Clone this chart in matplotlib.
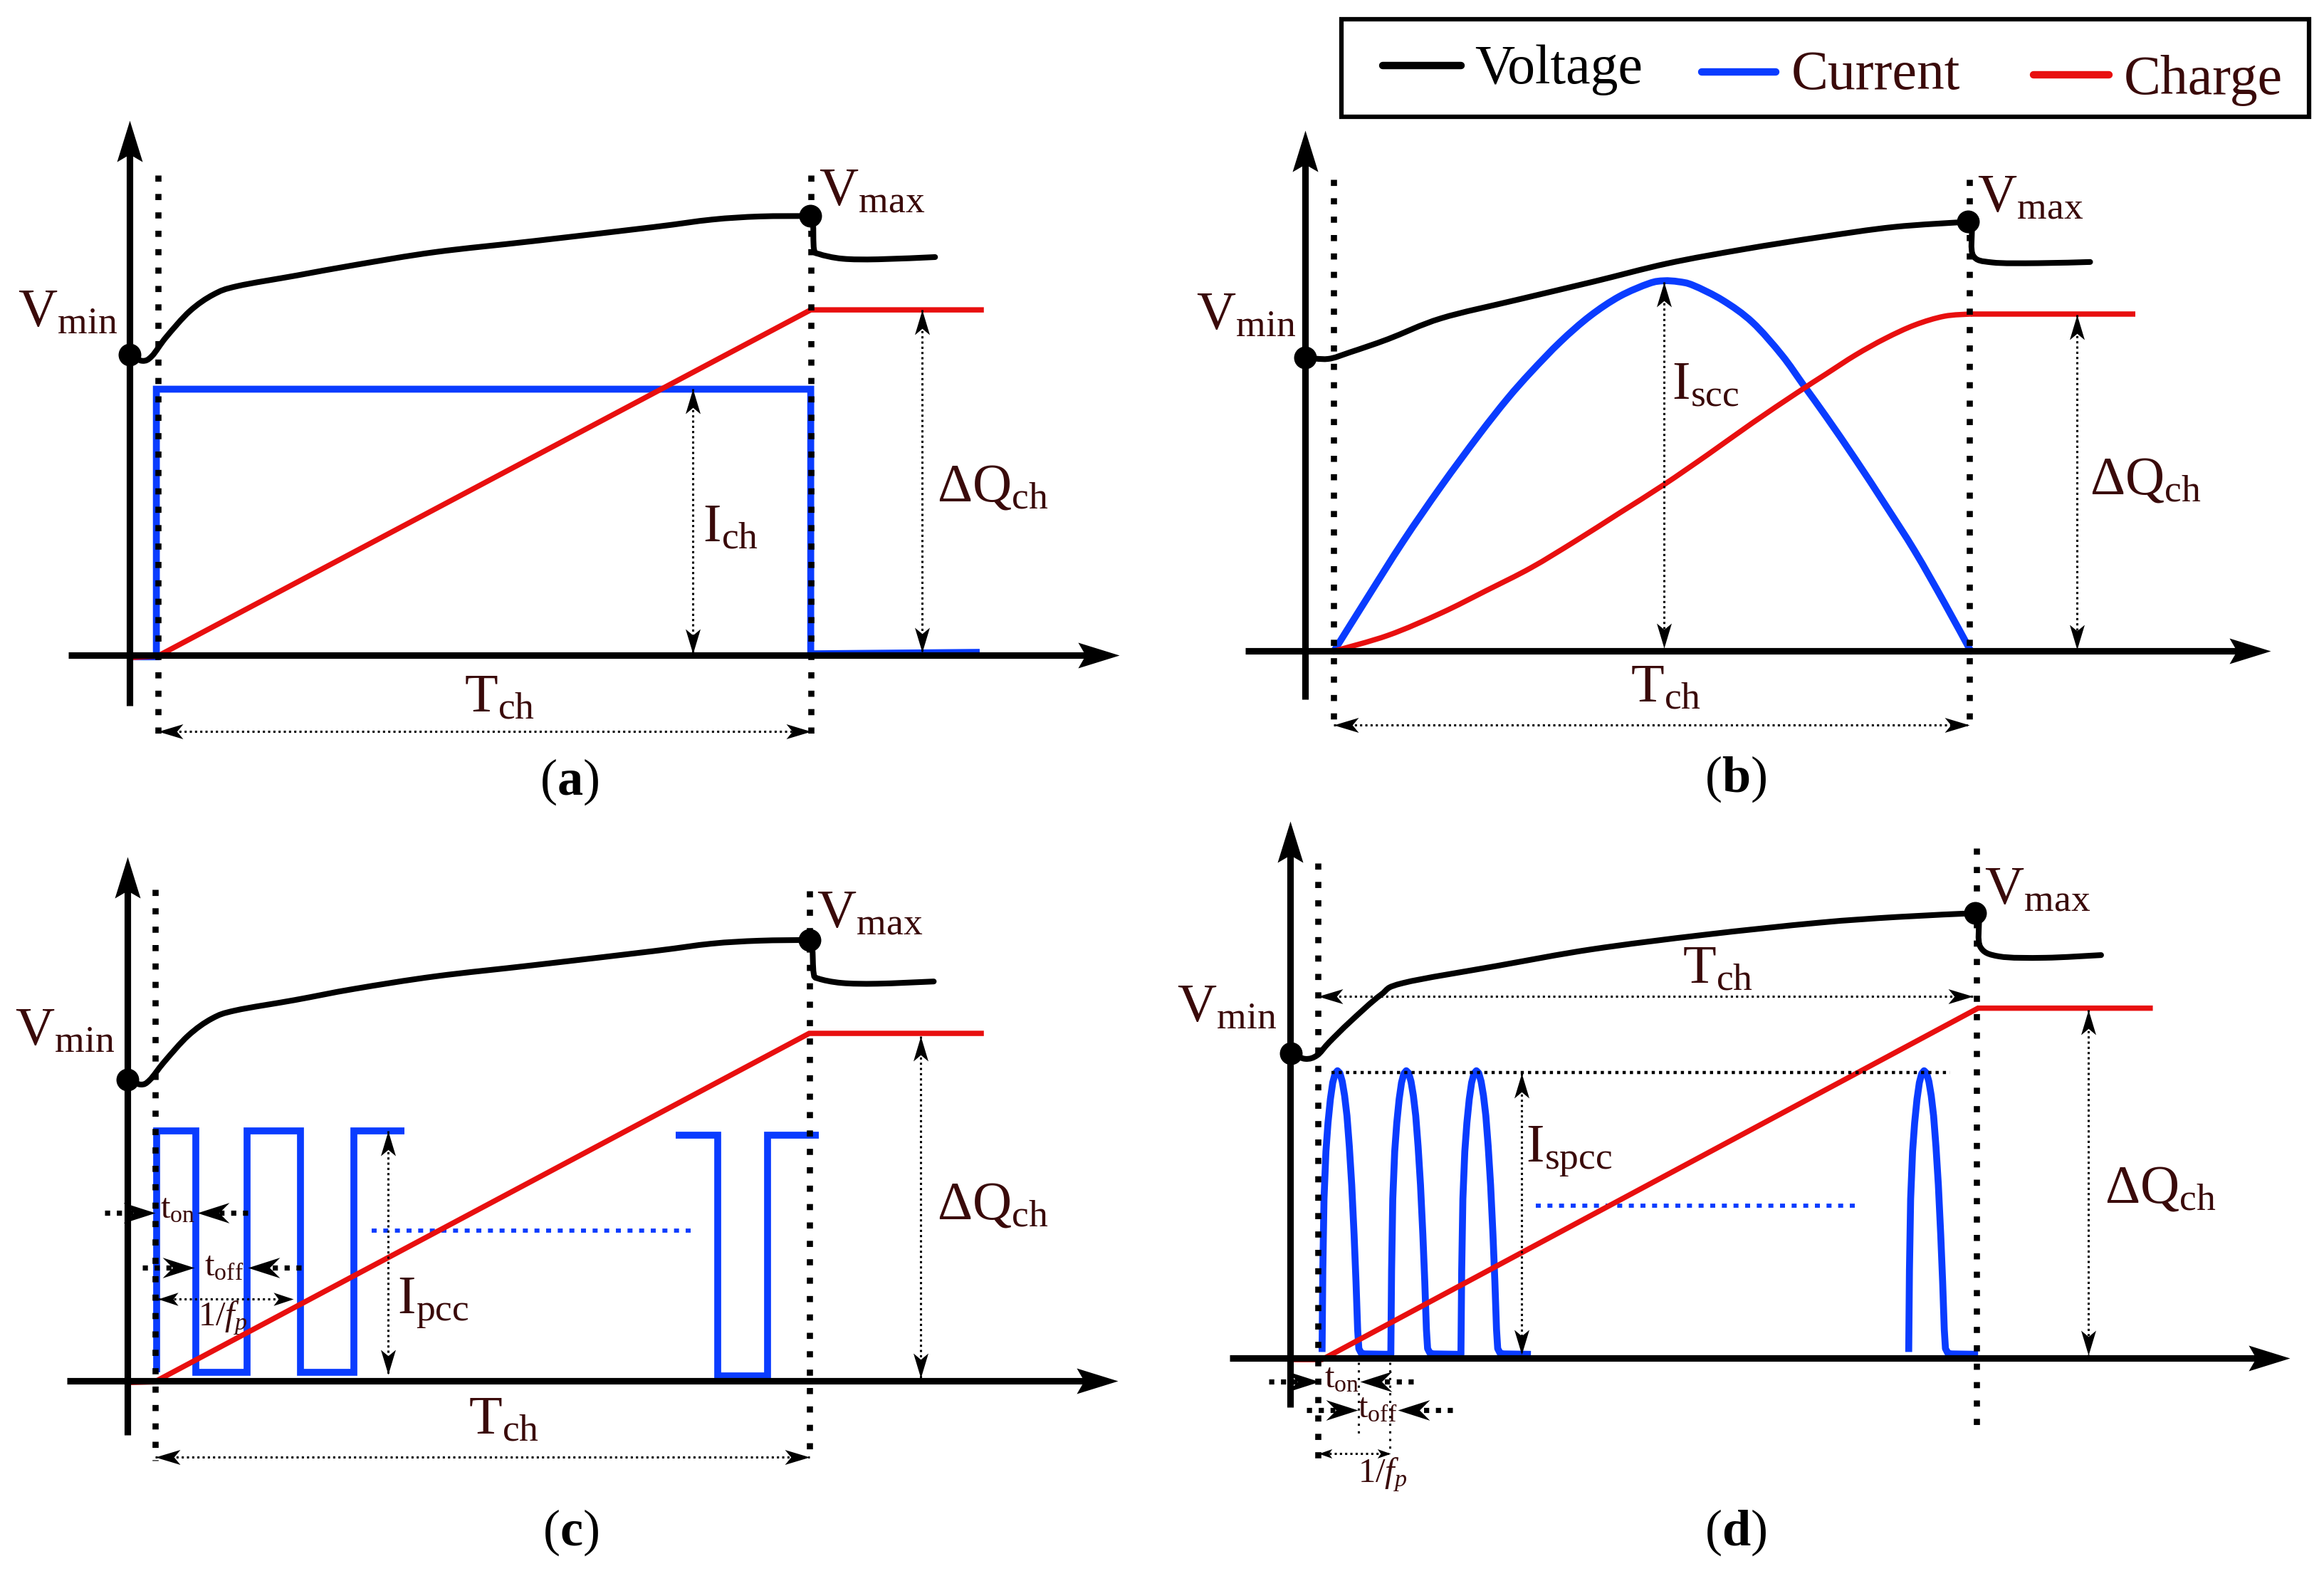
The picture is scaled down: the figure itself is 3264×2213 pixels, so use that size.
import matplotlib
matplotlib.use("Agg")
import numpy as np
import matplotlib.pyplot as plt
from matplotlib.path import Path
from matplotlib.markers import MarkerStyle
from matplotlib.patches import Rectangle, PathPatch

plt.rcParams["font.family"] = ["Liberation Serif", "DejaVu Serif"]
plt.rcParams["mathtext.fontset"] = "custom"
plt.rcParams["mathtext.rm"] = "Liberation Serif"
plt.rcParams["mathtext.it"] = "Liberation Serif:italic"
plt.rcParams["mathtext.bf"] = "Liberation Serif:bold"

# ---------------- data (schematic units) ----------------
# panel (a): constant current charging
a_volt_x = [87.3, 96.1, 102.5, 112.1, 128.1, 144.1, 160.1, 200.2, 240.2, 293.8, 360.0, 440.6, 480.4, 512.4, 546.5]
a_volt_y = [239.4, 243.4, 240.2, 227.4, 209.8, 198.6, 193.0, 185.8, 178.6, 170.0, 162.6, 153.2, 148.1, 146.0, 145.7]
a_rest_x = [546.5, 548.5, 549.2, 552.5, 568.5, 592.5, 630.9]
a_rest_y = [145.7, 150.5, 168.1, 171.3, 174.5, 174.9, 173.4]
a_curr_x = [87.5, 105.5, 105.5, 547.0, 547.0, 661.0]
a_curr_y = [443.0, 443.0, 262.5, 262.5, 441.0, 440.0]
a_chg_x = [87.5, 106.5, 547.0, 662.0]
a_chg_y = [443.5, 442.5, 209.0, 209.0]

# panel (b): sinusoidal current charging
b_volt_x = [880.6, 895.9, 911.2, 936.6, 972.3, 1023.2, 1075.0, 1125.0, 1176.0, 1226.9, 1277.8, 1327.7]
b_volt_y = [241.0, 242.1, 237.5, 228.7, 214.7, 202.3, 190.0, 177.7, 168.2, 160.1, 153.1, 149.6]
b_rest_x = [1327.7, 1330.3, 1331.3, 1344.0, 1375.0, 1410.2]
b_rest_y = [149.6, 154.8, 172.4, 177.0, 177.5, 176.7]
b_curr_x = [900.0, 921.4, 946.8, 972.3, 997.7, 1017.0, 1032.9, 1052.8, 1072.7, 1092.7, 1112.6, 1122.5,
            1132.5, 1142.5, 1162.4, 1182.3, 1202.2, 1217.0, 1232.1, 1252.0, 1272.0, 1291.9, 1311.8, 1329.7]
b_curr_y = [439.2, 405.0, 365.0, 328.0, 293.5, 269.0, 251.0, 230.5, 213.2, 199.9, 191.2, 189.4,
            190.0, 192.5, 202.6, 217.3, 239.5, 260.0, 281.0, 310.0, 340.5, 371.7, 406.5, 439.2]
b_chg_x = [900.0, 936.6, 972.3, 1002.5, 1032.9, 1062.8, 1092.7, 1122.5, 1152.4, 1182.3, 1212.2, 1232.1,
           1252.0, 1272.0, 1291.9, 1311.8, 1329.7]
b_chg_y = [439.2, 428.5, 413.5, 398.5, 383.0, 365.0, 346.0, 327.0, 306.5, 285.3, 265.1, 252.2,
           239.4, 228.3, 219.2, 213.3, 211.8]
b_chg_flat_x = [(880.6, 900.0), (1329.7, 1440.8)]
b_chg_flat_y = [439.2, 211.8]

# panel (c): pulsed current charging
c_volt_x = [85.8, 95.0, 101.0, 111.0, 127.0, 143.0, 159.0, 199.0, 239.0, 294.0, 360.0, 441.0, 480.0, 512.0, 546.0]
c_volt_y = [728.0, 731.5, 728.5, 716.0, 698.5, 687.0, 681.5, 674.5, 667.0, 658.5, 651.0, 641.5, 636.5, 634.5, 634.0]
c_rest_x = [546.0, 548.0, 549.0, 552.0, 568.0, 592.0, 630.0]
c_rest_y = [634.0, 639.0, 656.5, 660.0, 663.0, 663.5, 662.0]
c_curr1_x = [105.7, 105.7, 132.1, 132.1, 166.5, 166.5, 202.6, 202.6, 238.6, 238.6, 273.0]
c_curr1_y = [925.6, 763.0, 763.0, 925.6, 925.6, 763.0, 763.0, 925.6, 925.6, 763.0, 763.0]
c_curr2_x = [456.0, 484.0, 484.0, 518.0, 518.0, 552.5]
c_curr2_y = [765.5, 765.5, 928.0, 928.0, 765.5, 765.5]
c_chg_x = [86.0, 104.5, 546.0, 662.0]
c_chg_y = [932.5, 932.0, 697.0, 697.0]

# panel (d): sinusoidal-pulse current charging
d_volt_x = [870.8, 880.7, 888.7, 896.8, 911.1, 931.5, 946.8, 1010.0, 1074.0, 1150.0, 1226.7, 1280.0, 1332.6]
d_volt_y = [710.5, 714.2, 711.8, 703.0, 689.0, 671.1, 663.0, 651.5, 640.3, 630.5, 622.4, 618.5, 615.9]
d_rest_x = [1332.6, 1335.1, 1336.1, 1348.9, 1380.0, 1417.6]
d_rest_y = [615.9, 620.8, 638.6, 645.1, 646.0, 644.2]
d_pulse_dx = [0.0, 0.5, 1.3, 2.6, 4.0, 5.6, 7.2, 8.8, 10.4, 12.0, 13.6, 15.2, 16.8, 18.4, 20.0, 21.6, 22.9,
              24.0, 24.8, 26.4, 28.8]
d_pulse_y = [911.9, 856.7, 808.7, 776.7, 757.4, 741.4, 730.2, 724.1, 722.2, 723.8, 729.4, 739.0, 752.6, 773.4,
             799.1, 832.7, 864.7, 896.7, 909.6, 912.7, 913.2]
d_pulse_start = [892.0, 938.4, 985.7, 1287.8]
d_pulse_lowend = [938.4, 985.7, 1032.9, 1334.6]
d_low_level = 913.5
d_chg_x = [870.4, 892.0, 1334.6, 1450.7]
d_chg_y = [917.0, 917.0, 680.0, 680.0]

legend_names = ["Voltage", "Current", "Charge"]

# ---------------- figure ----------------
W, H = 1568.0, 1063.0
FIG_W, FIG_H, DPI = 32.64, 22.13, 100
PT = FIG_W * 72.0 / W  # points per schematic unit

BLACK = "#000000"
BLUE = "#0a3cff"
RED = "#e80f0f"
TXT = "#3a0a0a"

LW_AXIS = 6.6
LW_V = 5.8
LW_I = 7.0
LW_Q = 5.4

fig = plt.figure(figsize=(FIG_W, FIG_H), dpi=DPI)
ax = fig.add_axes([0, 0, 1, 1])
ax.set_xlim(0, W)
ax.set_ylim(H, 0)
ax.set_axis_off()


def smooth(xs, ys, color, lw, z):
    """Draw a smooth (Catmull-Rom style Bezier) curve through the given points."""
    P = np.column_stack([xs, ys]).astype(float)
    n = len(P)
    verts = [P[0]]
    codes = [Path.MOVETO]
    for i in range(n - 1):
        p0 = P[i - 1] if i > 0 else P[i]
        p1 = P[i]
        p2 = P[i + 1]
        p3 = P[i + 2] if i + 2 < n else P[i + 1]
        verts += [p1 + (p2 - p0) / 6.0, p2 - (p3 - p1) / 6.0, p2]
        codes += [Path.CURVE4] * 3
    ax.add_patch(PathPatch(Path(verts, codes), fill=False, edgecolor=color, lw=lw,
                           capstyle="round", joinstyle="round", zorder=z))


def ang_of(x0, y0, x1, y1):
    return np.degrees(np.arctan2(-(y1 - y0), x1 - x0))


def head(x, y, ang, L, w=0.32, notch=0.75, color=BLACK, z=9):
    p = Path([(0, 0), (-1, w), (-notch, 0), (-1, -w), (0, 0)],
             [Path.MOVETO, Path.LINETO, Path.LINETO, Path.LINETO, Path.CLOSEPOLY])
    m = MarkerStyle(p).rotated(deg=ang)
    ax.plot([x], [y], ls="none", marker=m, ms=2 * L * PT, mfc=color, mec=color, mew=0, zorder=z)


def axis_arrow(x0, y0, x1, y1):
    L = 27.9
    d = np.hypot(x1 - x0, y1 - y0)
    ux, uy = (x1 - x0) / d, (y1 - y0) / d
    ax.plot([x0, x1 - 0.6 * L * ux], [y0, y1 - 0.6 * L * uy], color=BLACK, lw=LW_AXIS,
            solid_capstyle="butt", zorder=7)
    head(x1, y1, ang_of(x0, y0, x1, y1), L, w=0.31, notch=0.82, z=7)


def thick_dots(xs, ys, lw=6.2, dash=(0, (1, 2)), z=5, color=BLACK):
    ax.plot(xs, ys, color=color, lw=lw, linestyle=dash, dash_capstyle="butt", zorder=z)


def dim_arrow(x0, y0, x1, y1, L=16.8, w=0.3):
    ax.plot([x0, x1], [y0, y1], color=BLACK, lw=2.2, linestyle=(0, (1, 1.4)),
            dash_capstyle="butt", zorder=6)
    head(x1, y1, ang_of(x0, y0, x1, y1), L, w=w, notch=0.75, z=6)
    head(x0, y0, ang_of(x1, y1, x0, y0), L, w=w, notch=0.75, z=6)


def pointer(tip_x, y, direction, tail_x, L=21.6):
    ang = 0 if direction > 0 else 180
    thick_dots([tail_x, tip_x - direction * 0.7 * L], [y, y], lw=5.2, dash=(0, (1, 1.3)), z=8)
    head(tip_x, y, ang, L, w=0.32, notch=0.68, z=8)


def label(x, y, s, size=55, color=TXT, ha="left"):
    ax.text(x, y, s, fontsize=size, color=color, ha=ha, va="baseline", zorder=10)


def vdot(x, y):
    ax.plot([x], [y], "o", ms=23, color=BLACK, mew=0, zorder=9)


def voltage(xs, ys, rx, ry):
    smooth(xs, ys, BLACK, LW_V, 6)
    smooth(rx, ry, BLACK, LW_V, 6)


# ---------------- panel (a) ----------------
ax.plot(a_curr_x, a_curr_y, color=BLUE, lw=LW_I, solid_joinstyle="miter", solid_capstyle="butt", zorder=3)
ax.plot(a_chg_x, a_chg_y, color=RED, lw=LW_Q, solid_joinstyle="miter", zorder=4)
thick_dots([106.5, 106.5], [118.0, 497.0])
thick_dots([547.0, 547.0], [118.0, 497.0])
voltage(a_volt_x, a_volt_y, a_rest_x, a_rest_y)
axis_arrow(87.5, 476.0, 87.5, 81.0)
axis_arrow(46.0, 442.0, 755.0, 442.0)
vdot(87.3, 239.4)
vdot(546.5, 145.7)
dim_arrow(467.5, 262.5, 467.5, 441.0)
dim_arrow(622.0, 209.0, 622.0, 440.0)
dim_arrow(106.5, 493.5, 547.0, 493.5)
label(12, 220, r"$\mathrm{V}_{\mathrm{min}}$")
label(552.5, 138.5, r"$\mathrm{V}_{\mathrm{max}}$")
label(474, 365, r"$\mathrm{I}_{\mathrm{ch}}$")
label(632, 338, r"$\mathrm{ΔQ}_{\mathrm{ch}}$")
label(313, 480, r"$\mathrm{T}_{\mathrm{ch}}$")
label(384, 536, r"$\mathrm{(}\mathbf{a}\mathrm{)}$", size=52, color=BLACK, ha="center")

# ---------------- panel (b) ----------------
smooth(b_curr_x, b_curr_y, BLUE, LW_I, 3)
smooth(b_chg_x, b_chg_y, RED, LW_Q, 4)
for fx, fy in zip(b_chg_flat_x, b_chg_flat_y):
    ax.plot(fx, [fy, fy], color=RED, lw=LW_Q, solid_capstyle="butt", zorder=4)
thick_dots([900.0, 900.0], [121.0, 490.0])
thick_dots([1328.7, 1328.7], [121.0, 490.0])
voltage(b_volt_x, b_volt_y, b_rest_x, b_rest_y)
axis_arrow(880.6, 471.5, 880.6, 88.0)
axis_arrow(840.0, 439.2, 1532.0, 439.2)
vdot(880.6, 241.0)
vdot(1327.7, 149.6)
dim_arrow(1122.5, 190.0, 1122.5, 437.0)
dim_arrow(1401.5, 212.5, 1401.5, 438.0)
dim_arrow(900.0, 489.0, 1328.7, 489.0)
label(807, 222, r"$\mathrm{V}_{\mathrm{min}}$")
label(1334, 142.5, r"$\mathrm{V}_{\mathrm{max}}$")
label(1128, 269, r"$\mathrm{I}_{\mathrm{scc}}$")
label(1410, 333, r"$\mathrm{ΔQ}_{\mathrm{ch}}$")
label(1100, 473, r"$\mathrm{T}_{\mathrm{ch}}$")
label(1171, 534, r"$\mathrm{(}\mathbf{b}\mathrm{)}$", size=52, color=BLACK, ha="center")

# ---------------- panel (c) ----------------
ax.plot(c_curr1_x, c_curr1_y, color=BLUE, lw=LW_I, solid_joinstyle="miter", solid_capstyle="butt", zorder=3)
ax.plot(c_curr2_x, c_curr2_y, color=BLUE, lw=LW_I, solid_joinstyle="miter", solid_capstyle="butt", zorder=3)
ax.plot(c_chg_x, c_chg_y, color=RED, lw=LW_Q, solid_joinstyle="miter", zorder=4)
ax.plot([250.6, 468.0], [830.0, 830.0], color=BLUE, lw=4.2, linestyle=(0, (1.2, 1.6)),
        dash_capstyle="butt", zorder=3)
thick_dots([104.5, 104.5], [600.0, 985.0])
thick_dots([546.0, 546.0], [601.0, 985.0])
voltage(c_volt_x, c_volt_y, c_rest_x, c_rest_y)
axis_arrow(86.0, 968.0, 86.0, 578.0)
axis_arrow(45.0, 931.5, 754.0, 931.5)
vdot(85.8, 728.0)
vdot(546.0, 634.0)
dim_arrow(261.8, 763.0, 261.8, 927.0)
dim_arrow(621.0, 699.0, 621.0, 929.5)
dim_arrow(104.5, 983.0, 546.0, 983.0)
dim_arrow(106.5, 876.0, 197.8, 876.0, L=13.5, w=0.33)
pointer(104.8, 818.0, +1, 70.5)
pointer(132.9, 818.0, -1, 167.3)
pointer(131.3, 855.0, +1, 96.0)
pointer(167.3, 855.0, -1, 203.4)
label(10, 705, r"$\mathrm{V}_{\mathrm{min}}$")
label(551, 625.5, r"$\mathrm{V}_{\mathrm{max}}$")
label(268, 886, r"$\mathrm{I}_{\mathrm{pcc}}$")
label(632, 822, r"$\mathrm{ΔQ}_{\mathrm{ch}}$")
label(316, 967, r"$\mathrm{T}_{\mathrm{ch}}$")
label(108, 821.5, r"$\mathrm{t}_{\mathrm{on}}$", size=35)
label(137.7, 860.7, r"$\mathrm{t}_{\mathrm{off}}$", size=35)
label(133.6, 894.3, r"$\mathrm{1/}\mathit{f}_{\mathit{p}}$", size=35)
label(385, 1042, r"$\mathrm{(}\mathbf{c}\mathrm{)}$", size=52, color=BLACK, ha="center")

# ---------------- panel (d) ----------------
groups = [[0, 1, 2], [3]]
for g in groups:
    gx, gy = [], []
    for i in g:
        gx += [d_pulse_start[i] + dx for dx in d_pulse_dx] + [d_pulse_lowend[i]]
        gy += list(d_pulse_y) + [d_low_level]
    ax.plot(gx, gy, color=BLUE, lw=LW_I, solid_joinstyle="round", solid_capstyle="butt", zorder=3)
ax.plot(d_chg_x, d_chg_y, color=RED, lw=LW_Q, solid_joinstyle="miter", zorder=4)
ax.plot([1036.0, 1254.7], [813.0, 813.0], color=BLUE, lw=4.2, linestyle=(0, (1.2, 1.6)),
        dash_capstyle="butt", zorder=3)
ax.plot([898.4, 1315.8], [723.5, 723.5], color=BLACK, lw=3.2, linestyle=(0, (1, 1.3)),
        dash_capstyle="butt", zorder=5)
thick_dots([889.0, 889.0], [582.0, 990.5])
thick_dots([1333.6, 1333.6], [572.0, 968.5])
ax.plot([916.7, 916.7], [919.0, 970.4], color=BLACK, lw=2.2, linestyle=(0, (1, 2.5)), zorder=5)
ax.plot([937.6, 937.6], [919.0, 978.4], color=BLACK, lw=2.2, linestyle=(0, (1, 2.5)), zorder=5)
voltage(d_volt_x, d_volt_y, d_rest_x, d_rest_y)
axis_arrow(870.4, 949.0, 870.4, 554.0)
axis_arrow(829.7, 916.0, 1544.8, 916.0)
vdot(870.8, 710.5)
vdot(1332.6, 615.9)
dim_arrow(1026.8, 723.8, 1026.8, 913.5)
dim_arrow(1408.9, 681.0, 1408.9, 914.0)
dim_arrow(889.0, 672.0, 1331.0, 672.0)
dim_arrow(889.5, 980.3, 938.4, 980.3, L=9.0, w=0.35)
pointer(890.3, 931.7, +1, 855.9)
pointer(917.6, 931.7, -1, 953.6)
pointer(916.0, 951.2, +1, 881.5)
pointer(943.2, 951.2, -1, 980.0)
label(794, 689, r"$\mathrm{V}_{\mathrm{min}}$")
label(1338.7, 609.4, r"$\mathrm{V}_{\mathrm{max}}$")
label(1029.6, 783.8, r"$\mathrm{I}_{\mathrm{spcc}}$")
label(1420, 811, r"$\mathrm{ΔQ}_{\mathrm{ch}}$")
label(1135, 663, r"$\mathrm{T}_{\mathrm{ch}}$")
label(893.6, 936, r"$\mathrm{t}_{\mathrm{on}}$", size=35)
label(916, 956, r"$\mathrm{t}_{\mathrm{off}}$", size=35)
label(916, 1000, r"$\mathrm{1/}\mathit{f}_{\mathit{p}}$", size=35)
label(1171, 1042, r"$\mathrm{(}\mathbf{d}\mathrm{)}$", size=52, color=BLACK, ha="center")

# ---------------- legend ----------------
ax.add_patch(Rectangle((905.0, 12.8), 653.0, 66.0, facecolor="white", edgecolor=BLACK, lw=4.5, zorder=11))
leg_line_x = [(933.0, 986.0), (1148.0, 1198.0), (1372.0, 1423.0)]
leg_line_y = [44.0, 48.5, 50.5]
leg_text_x = [995.0, 1208.5, 1433.0]
leg_text_y = [56.0, 60.0, 63.3]
leg_cols = [BLACK, BLUE, RED]
leg_txtcols = [BLACK, TXT, TXT]
for i, name in enumerate(legend_names):
    ax.plot(leg_line_x[i], [leg_line_y[i]] * 2, color=leg_cols[i], lw=7.5, solid_capstyle="round", zorder=12)
    ax.text(leg_text_x[i], leg_text_y[i], name, fontsize=56, color=leg_txtcols[i],
            ha="left", va="baseline", zorder=12)

fig.savefig("out.png", dpi=DPI, facecolor="white")
